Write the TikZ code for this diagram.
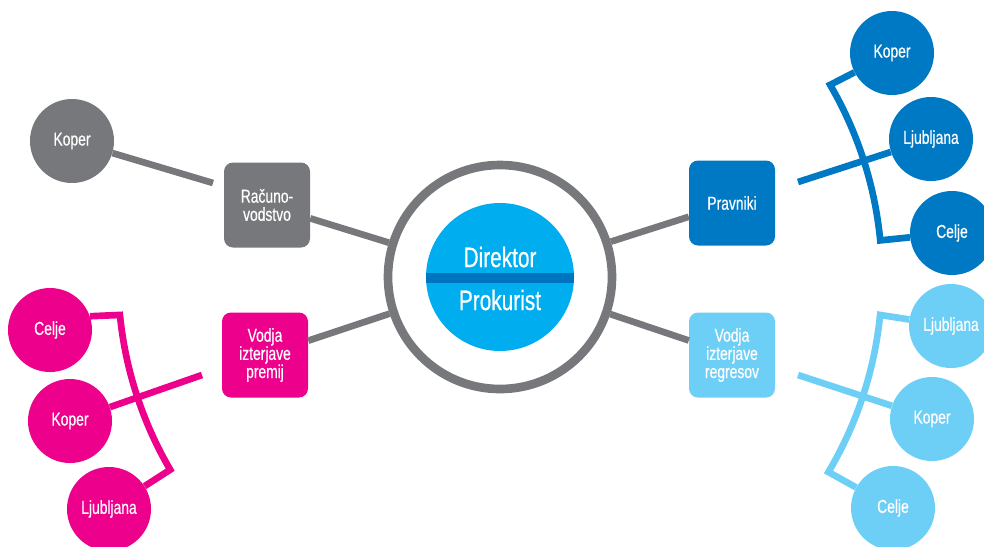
\documentclass[tikz,border=0pt]{standalone}
\usepackage{fontspec}
\setmainfont[FakeStretch=0.74,FakeBold=0.4]{Liberation Sans}
\usetikzlibrary{positioning}

\definecolor{gsiva}{RGB}{119,120,123}
\definecolor{gmagenta}{RGB}{236,0,140}
\definecolor{gmodra}{RGB}{0,121,196}
\definecolor{gsvetla}{RGB}{109,207,246}
\definecolor{gcian}{RGB}{0,174,239}
\definecolor{gpas}{RGB}{0,117,191}

\tikzset{
  office/.style={circle, minimum size=2.52cm, inner sep=0pt, text=white,
    font=\fontsize{16}{16}\selectfont},
  oddelek/.style={rounded corners=0.27cm, minimum width=2.58cm, minimum height=2.55cm,
    inner sep=0pt, text=white, align=center, font=\fontsize{16}{15.5}\selectfont},
  vez/.style={line width=0.2cm}
}

\begin{document}
\begin{tikzpicture}[x=0.03cm,y=0.03cm]
\useasboundingbox (0,0) rectangle (984,-546);

% Hub
\coordinate (hub) at (500,-277);
\node [draw=gsiva,
	line width=0.26cm,
	circle,
	minimum size=6.72cm] (ring) at (hub){};
\fill[gcian] (hub) circle (74);
\scope % stripe
\clip (hub) circle (74);
\fill[gpas] (420,-273) rectangle (580,-283);
\endscope
\node [text=white, font=\fontsize{24}{24}\selectfont] (dir) at (500,-257){Direktor};
\node [text=white, font=\fontsize{24}{24}\selectfont] (prok) at (500,-300){Prokurist};

% Departments
\node [oddelek, fill=gsiva] (R) at (267,-205){Računo-\\vodstvo};
\node [oddelek, fill=gmagenta] (VP) at (265,-355){Vodja\\izterjave\\premij};
\node [oddelek, fill=gmodra] (P) at (732,-203){Pravniki};
\node [oddelek, fill=gsvetla] (VR) at (732,-355){Vodja\\izterjave\\regresov};

\draw[vez, gsiva] (R) -- (ring);
\draw[vez, gsiva] (VP) -- (ring);
\draw[vez, gsiva] (P) -- (ring);
\draw[vez, gsiva] (VR) -- (ring);

% Racunovodstvo
\node [office, fill=gsiva] (Kg) at (72,-141){Koper};
\coordinate (gx) at (213,-183);
\draw[vez, gsiva] (Kg) -- (gx);

% Vodja izterjave premij
\node [office, fill=gmagenta] (Cm) at (50,-330){Celje};
\node [office, fill=gmagenta] (Km) at (70,-421){Koper};
\node [office, fill=gmagenta] (Lm) at (109,-509){Ljubljana};
\coordinate (mt) at ([shift={(185.7:382)}]hub);
\coordinate (mx) at (202,-375);
\draw[vez, gmagenta] (Cm.19) -- (mt) arc[start angle=185.7, end angle=210.3, radius=382] -- (Lm);
\draw[vez, gmagenta] (mx) -- (Km);

% Pravniki
\node [office, fill=gmodra] (Kb) at (892,-53){Koper};
\node [office, fill=gmodra] (Lb) at (931,-139){Ljubljana};
\node [office, fill=gmodra] (Cb) at (952,-233){Celje};
\coordinate (bt) at ([shift={(30.2:382)}]hub);
\coordinate (bx) at (798,-182);
\draw[vez, gmodra] (Kb) -- (bt) arc[start angle=30.2, end angle=5.5, radius=382] -- (Cb);
\draw[vez, gmodra] (bx) -- (Lb);

% Vodja izterjave regresov
\node [office, fill=gsvetla] (Ll) at (951,-326){Ljubljana};
\node [office, fill=gsvetla] (Kl) at (932,-419){Koper};
\node [office, fill=gsvetla] (Cl) at (893,-508){Celje};
\coordinate (lt) at ([shift={(-5.7:382)}]hub);
\coordinate (lx) at (798,-375);
\draw[vez, gsvetla] (Ll) -- (lt) arc[start angle=-5.7, end angle=-30.7, radius=382] -- (Cl);
\draw[vez, gsvetla] (lx) -- (Kl);

\end{tikzpicture}
\end{document}
